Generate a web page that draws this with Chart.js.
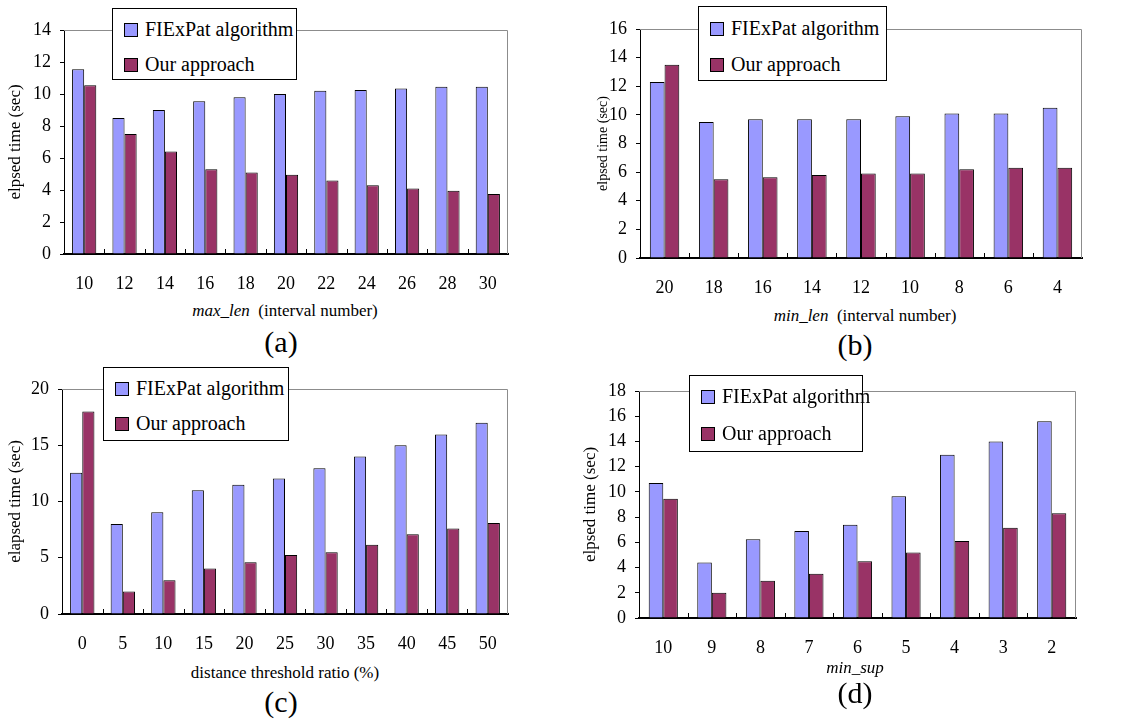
<!DOCTYPE html>
<html>
<head>
<meta charset="utf-8">
<script src="https://cdn.jsdelivr.net/npm/chart.js@4.4.0/dist/chart.umd.min.js"></script>
<style>
  body { margin: 0; background: #fff; font-family: "Times New Roman", "Liberation Serif", "DejaVu Serif", serif; }
  #page { position: relative; width: 1129px; height: 720px; overflow: hidden; }
  canvas { position: absolute; }
  .legend { position: absolute; background: #fff; border: 1px solid #000; box-sizing: border-box; font-size: 20px; }
  .legend .item { position: absolute; left: 11px; white-space: nowrap; line-height: 22px; }
  .legend .sw { display: inline-block; width: 12px; height: 12px; border: 1px solid #000; margin-right: 7px; vertical-align: -1px; }
  .xtitle { position: absolute; font-size: 17px; white-space: nowrap; transform: translate(-50%, -50%); }
  .panel { position: absolute; font-size: 30px; transform: translate(-50%, -50%); }
</style>
</head>
<body>
<div id="page"></div>
<script>
const FONT = '"Times New Roman", "Liberation Serif", "DejaVu Serif", serif';
const SERIES = ["FIExPat algorithm", "Our approach"];
const COLORS = ["#9999FF", "#993366"];

const A_LABELS = ["10", "12", "14", "16", "18", "20", "22", "24", "26", "28", "30"];
const A_FIEXPAT = [11.55, 8.5, 9.0, 9.55, 9.8, 10.0, 10.2, 10.25, 10.35, 10.45, 10.45];
const A_OURS = [10.55, 7.5, 6.4, 5.3, 5.1, 4.95, 4.6, 4.3, 4.1, 3.95, 3.75];

const B_LABELS = ["20", "18", "16", "14", "12", "10", "8", "6", "4"];
const B_FIEXPAT = [12.3, 9.5, 9.7, 9.7, 9.7, 9.9, 10.1, 10.1, 10.5];
const B_OURS = [13.5, 5.5, 5.65, 5.8, 5.9, 5.9, 6.2, 6.3, 6.3];

const C_LABELS = ["0", "5", "10", "15", "20", "25", "30", "35", "40", "45", "50"];
const C_FIEXPAT = [12.55, 8.0, 9.05, 11.0, 11.5, 12.05, 12.95, 14.0, 15.0, 15.95, 17.0];
const C_OURS = [18.0, 2.0, 3.0, 4.05, 4.6, 5.25, 5.5, 6.15, 7.1, 7.6, 8.1];

const D_LABELS = ["10", "9", "8", "7", "6", "5", "4", "3", "2"];
const D_FIEXPAT = [10.7, 4.4, 6.25, 6.9, 7.4, 9.65, 12.95, 14.0, 15.6];
const D_OURS = [9.45, 2.0, 2.95, 3.5, 4.5, 5.2, 6.1, 7.15, 8.3];

const page = document.getElementById("page");

// gray frame on top/right plus inward x tick marks at category boundaries
const framePlugin = {
  id: "frame",
  afterDraw(chart) {
    const { ctx, chartArea: a, scales } = chart;
    ctx.save();
    ctx.strokeStyle = "#8c8c8c";
    ctx.lineWidth = 1;
    ctx.beginPath();
    ctx.moveTo(a.left, a.top + 0.5);
    ctx.lineTo(a.right - 0.5, a.top + 0.5);
    ctx.lineTo(a.right - 0.5, a.bottom);
    ctx.stroke();
    const x = scales.x;
    const n = chart.data.labels.length;
    const half = (x.getPixelForValue(1) - x.getPixelForValue(0)) / 2;
    ctx.strokeStyle = "#000";
    ctx.beginPath();
    for (let i = 1; i < n; i++) {
      const px = Math.round(x.getPixelForValue(i) - half) + 0.5;
      ctx.moveTo(px, a.bottom);
      ctx.lineTo(px, a.bottom - 5);
    }
    ctx.stroke();
    ctx.restore();
  }
};

function makePanel(cfg) {
  const cv = document.createElement("canvas");
  cv.style.left = cfg.left + "px";
  cv.style.top = cfg.top + "px";
  cv.width = cfg.width;
  cv.height = cfg.height;
  cv.style.width = cfg.width + "px";
  cv.style.height = cfg.height + "px";
  page.appendChild(cv);

  new Chart(cv.getContext("2d"), {
    type: "bar",
    data: {
      labels: cfg.labels,
      datasets: [cfg.fiexpat, cfg.ours].map((d, i) => ({
        label: SERIES[i],
        data: d,
        backgroundColor: COLORS[i],
        borderColor: "#000",
        borderWidth: 1,
        borderSkipped: "bottom",
        categoryPercentage: 0.6,
        barPercentage: 1.0
      }))
    },
    options: {
      responsive: false,
      animation: false,
      layout: { padding: { top: cfg.padTop, right: cfg.padRight, left: 0, bottom: 0 } },
      plugins: { legend: { display: false }, tooltip: { enabled: false } },
      scales: {
        x: {
          grid: { display: false, drawTicks: false },
          border: { display: true, color: "#000", width: 2 },
          ticks: { color: "#000", padding: 19, maxRotation: 0, font: { family: FONT, size: 18 } },
          afterFit: s => { s.height = cfg.xHeight; }
        },
        y: {
          min: 0,
          max: cfg.yMax,
          ticks: { stepSize: cfg.yStep, color: "#000", padding: 9, font: { family: FONT, size: 18 } },
          grid: { display: true, drawOnChartArea: false, drawTicks: true, tickLength: 4, color: "#000" },
          border: { display: true, color: "#000", width: 1 },
          title: {
            display: true,
            text: cfg.yTitle,
            color: "#000",
            padding: { top: cfg.yTitlePad, bottom: 0 },
            font: { family: FONT, size: cfg.yTitleSize }
          },
          afterFit: s => { s.width = cfg.yWidth; }
        }
      }
    },
    plugins: [framePlugin]
  });

  const lg = document.createElement("div");
  lg.className = "legend";
  lg.style.left = cfg.legend[0] + "px";
  lg.style.top = cfg.legend[1] + "px";
  lg.style.width = cfg.legend[2] + "px";
  lg.style.height = cfg.legend[3] + "px";
  SERIES.forEach((name, i) => {
    const it = document.createElement("div");
    it.className = "item";
    it.style.top = (cfg.legendRows[i] - 11) + "px";
    const sw = document.createElement("span");
    sw.className = "sw";
    sw.style.background = COLORS[i];
    it.appendChild(sw);
    it.appendChild(document.createTextNode(name));
    lg.appendChild(it);
  });
  page.appendChild(lg);

  const xt = document.createElement("div");
  xt.className = "xtitle";
  xt.style.left = cfg.xTitlePos[0] + "px";
  xt.style.top = cfg.xTitlePos[1] + "px";
  xt.innerHTML = cfg.xTitle;
  page.appendChild(xt);

  const pl = document.createElement("div");
  pl.className = "panel";
  pl.style.left = cfg.letterPos[0] + "px";
  pl.style.top = cfg.letterPos[1] + "px";
  pl.textContent = cfg.letter;
  page.appendChild(pl);
}

makePanel({
  left: 0, top: 0, width: 560, height: 300,
  padTop: 30, padRight: 52, xHeight: 46, yWidth: 64,
  labels: A_LABELS, fiexpat: A_FIEXPAT, ours: A_OURS,
  yMax: 14, yStep: 2,
  yTitle: "elpsed time (sec)", yTitleSize: 17, yTitlePad: 5,
  legend: [112, 8, 185, 72], legendRows: [20, 55],
  xTitle: "<i>max_len</i>&nbsp; (interval number)", xTitlePos: [285, 311],
  letter: "(a)", letterPos: [281, 342]
});

makePanel({
  left: 560, top: 0, width: 569, height: 300,
  padTop: 29, padRight: 47, xHeight: 42, yWidth: 80,
  labels: B_LABELS, fiexpat: B_FIEXPAT, ours: B_OURS,
  yMax: 16, yStep: 2,
  yTitle: "elpsed time (sec)", yTitleSize: 14, yTitlePad: 35,
  legend: [698, 6, 189, 75], legendRows: [21, 57],
  xTitle: "<i>min_len</i>&nbsp; (interval number)", xTitlePos: [865, 316],
  letter: "(b)", letterPos: [855, 345]
});

makePanel({
  left: 0, top: 360, width: 560, height: 300,
  padTop: 29, padRight: 52, xHeight: 46, yWidth: 62,
  labels: C_LABELS, fiexpat: C_FIEXPAT, ours: C_OURS,
  yMax: 20, yStep: 5,
  yTitle: "elapsed time (sec)", yTitleSize: 17, yTitlePad: 5,
  legend: [103, 367, 186, 74], legendRows: [20, 55],
  xTitle: "distance threshold ratio (%)", xTitlePos: [285, 673],
  letter: "(c)", letterPos: [281, 702]
});

makePanel({
  left: 560, top: 360, width: 569, height: 300,
  padTop: 31, padRight: 53, xHeight: 42, yWidth: 79,
  labels: D_LABELS, fiexpat: D_FIEXPAT, ours: D_OURS,
  yMax: 18, yStep: 2,
  yTitle: "elpsed time (sec)", yTitleSize: 17, yTitlePad: 20,
  legend: [689, 375, 174, 77], legendRows: [20, 57],
  xTitle: "<i>min_sup</i>", xTitlePos: [855, 668],
  letter: "(d)", letterPos: [855, 693]
});
</script>
</body>
</html>
